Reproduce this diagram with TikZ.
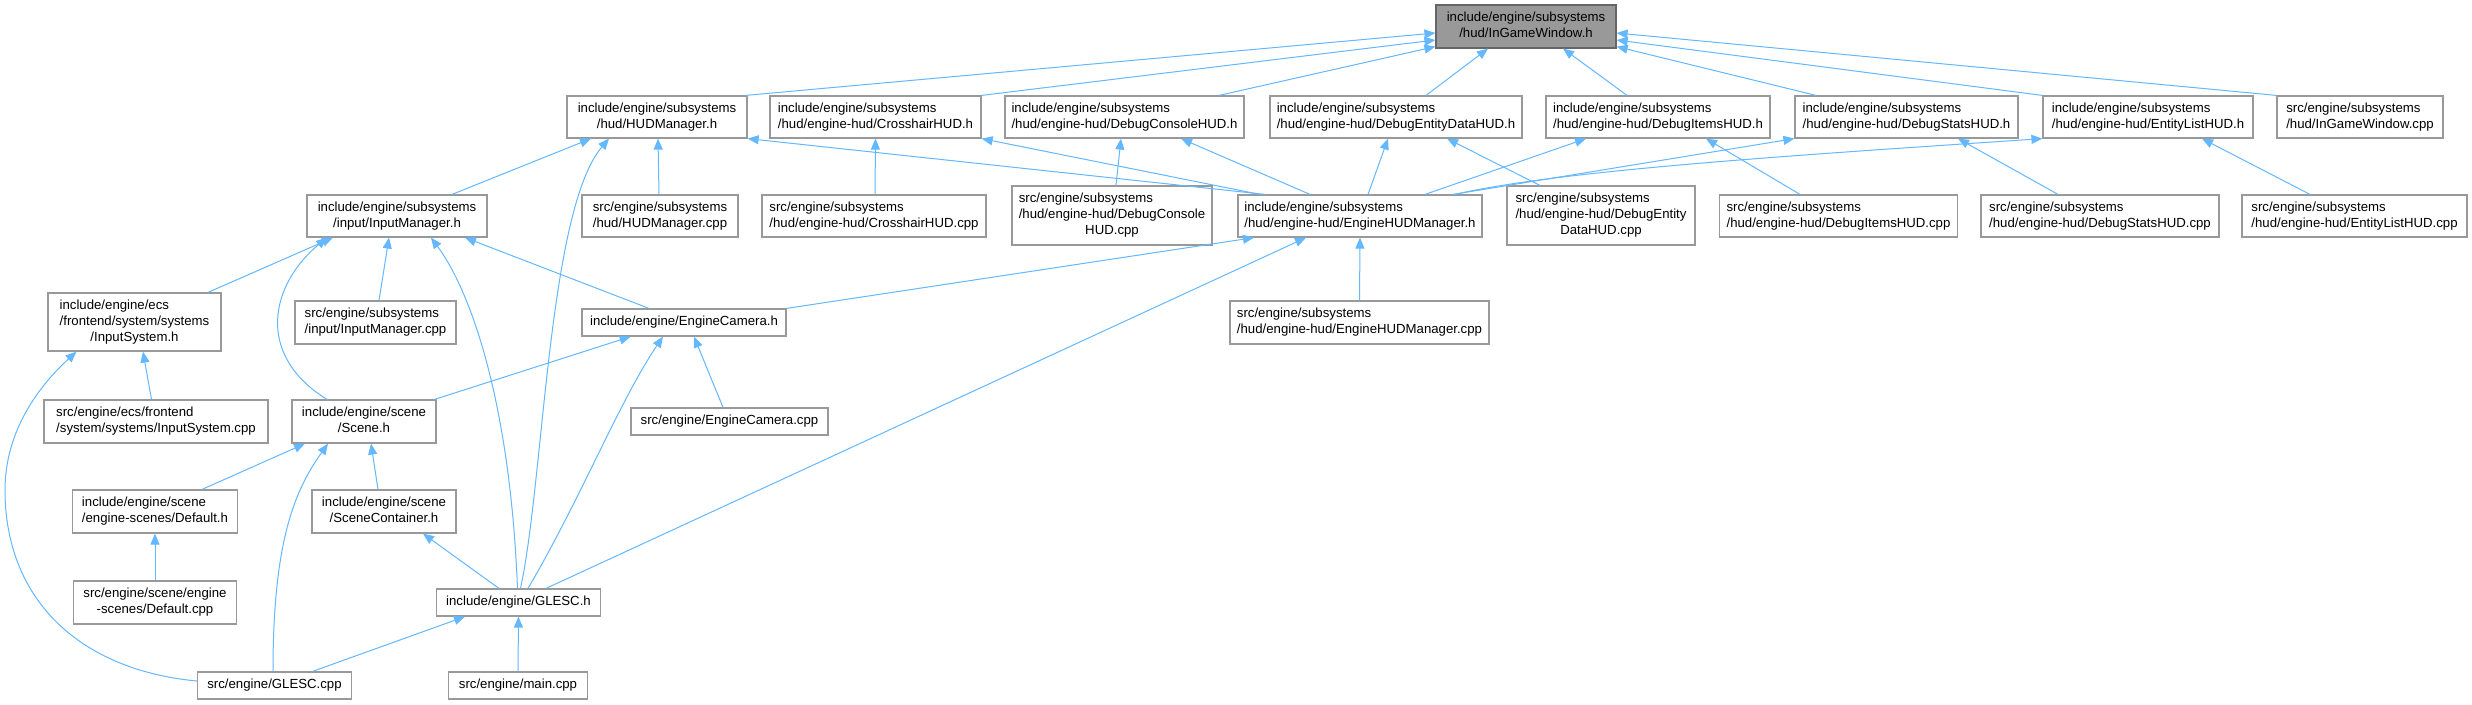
\documentclass[tikz,border=0pt]{standalone}
\usepackage{fontspec}
\setmainfont{Liberation Sans}
\usetikzlibrary{arrows.meta}
\definecolor{edgeblue}{HTML}{63B8FF}
\definecolor{boxgray}{HTML}{999999}
\definecolor{rootfill}{HTML}{999999}
\definecolor{rootline}{HTML}{666666}
\newcommand{\twoline}[2]{\begin{tabular}{@{}l@{}}#1\\\multicolumn{1}{@{}c@{}}{#2}\end{tabular}}
\newcommand{\threeline}[3]{\begin{tabular}{@{}l@{}}#1\\#2\\\multicolumn{1}{@{}c@{}}{#3}\end{tabular}}
\begin{document}
\begin{tikzpicture}[x=1pt, y=-1pt, every node/.style={font=\fontsize{13.2}{16}\selectfont},
  file/.style={draw=boxgray, fill=white, line width=1.2pt, inner sep=0pt},
  rootfile/.style={file, draw=rootline, fill=rootfill},
  dep/.style={draw=edgeblue, line width=1pt, {Triangle[length=11pt,width=9pt]}-}]
\useasboundingbox[fill=white] (0,0) rectangle (2472,704);
\node[rootfile, minimum width=180, minimum height=43] (root) at (1526,26.5) {\twoline{include/engine/subsystems}{/hud/InGameWindow.h}};
\node[file, minimum width=180, minimum height=42] (hudm) at (657,117) {\twoline{include/engine/subsystems}{/hud/HUDManager.h}};
\node[file, minimum width=211, minimum height=42] (cross) at (875.5,117) {\twoline{include/engine/subsystems}{/hud/engine-hud/CrosshairHUD.h}};
\node[file, minimum width=239, minimum height=42] (dcon) at (1124.5,117) {\twoline{include/engine/subsystems}{/hud/engine-hud/DebugConsoleHUD.h}};
\node[file, minimum width=252, minimum height=42] (dent) at (1396,117) {\twoline{include/engine/subsystems}{/hud/engine-hud/DebugEntityDataHUD.h}};
\node[file, minimum width=224, minimum height=42] (ditm) at (1658,117) {\twoline{include/engine/subsystems}{/hud/engine-hud/DebugItemsHUD.h}};
\node[file, minimum width=223, minimum height=42] (dsta) at (1906.5,117) {\twoline{include/engine/subsystems}{/hud/engine-hud/DebugStatsHUD.h}};
\node[file, minimum width=210, minimum height=42] (elist) at (2148,117) {\twoline{include/engine/subsystems}{/hud/engine-hud/EntityListHUD.h}};
\node[file, minimum width=166, minimum height=42] (igwcpp) at (2360,117) {\twoline{src/engine/subsystems}{/hud/InGameWindow.cpp}};
\node[file, minimum width=180, minimum height=42] (inpm) at (397,216) {\twoline{include/engine/subsystems}{/input/InputManager.h}};
\node[file, minimum width=156, minimum height=42] (hudcpp) at (660,216) {\twoline{src/engine/subsystems}{/hud/HUDManager.cpp}};
\node[file, minimum width=224, minimum height=42] (crosscpp) at (874,216) {\twoline{src/engine/subsystems}{/hud/engine-hud/CrosshairHUD.cpp}};
\node[file, minimum width=200, minimum height=59] (dconcpp) at (1112,215.5) {\threeline{src/engine/subsystems}{/hud/engine-hud/DebugConsole}{HUD.cpp}};
\node[file, minimum width=244, minimum height=42] (ehm) at (1360,216) {\twoline{include/engine/subsystems}{/hud/engine-hud/EngineHUDManager.h}};
\node[file, minimum width=188, minimum height=59] (dentcpp) at (1601,215.5) {\threeline{src/engine/subsystems}{/hud/engine-hud/DebugEntity}{DataHUD.cpp}};
\node[file, minimum width=238, minimum height=42] (ditmcpp) at (1838.5,216) {\twoline{src/engine/subsystems}{/hud/engine-hud/DebugItemsHUD.cpp}};
\node[file, minimum width=238, minimum height=42] (dstacpp) at (2100,216) {\twoline{src/engine/subsystems}{/hud/engine-hud/DebugStatsHUD.cpp}};
\node[file, minimum width=225, minimum height=42] (elistcpp) at (2354.5,216) {\twoline{src/engine/subsystems}{/hud/engine-hud/EntityListHUD.cpp}};
\node[file, minimum width=173, minimum height=58] (insys) at (134.5,322) {\threeline{include/engine/ecs}{/frontend/system/systems}{/InputSystem.h}};
\node[file, minimum width=161, minimum height=43] (inpmcpp) at (375.5,322.5) {\twoline{src/engine/subsystems}{/input/InputManager.cpp}};
\node[file, minimum width=204, minimum height=27] (cam) at (684,322.5) {include/engine/EngineCamera.h};
\node[file, minimum width=259, minimum height=43] (ehmcpp) at (1359.5,322.5) {\twoline{src/engine/subsystems}{/hud/engine-hud/EngineHUDManager.cpp}};
\node[file, minimum width=224, minimum height=43] (insyscpp) at (156,421.5) {\twoline{src/engine/ecs/frontend}{/system/systems/InputSystem.cpp}};
\node[file, minimum width=144, minimum height=43] (scene) at (364,421.5) {\twoline{include/engine/scene}{/Scene.h}};
\node[file, minimum width=197, minimum height=27] (camcpp) at (729.5,421.5) {src/engine/EngineCamera.cpp};
\node[file, minimum width=165, minimum height=43] (defh) at (155,511.5) {\twoline{include/engine/scene}{/engine-scenes/Default.h}};
\node[file, minimum width=144, minimum height=43] (scont) at (384,511.5) {\twoline{include/engine/scene}{/SceneContainer.h}};
\node[file, minimum width=163, minimum height=43] (defcpp) at (155,602.5) {\twoline{src/engine/scene/engine}{-scenes/Default.cpp}};
\node[file, minimum width=164, minimum height=27] (glh) at (518.5,602.5) {include/engine/GLESC.h};
\node[file, minimum width=154, minimum height=27] (glcpp) at (274.5,685.5) {src/engine/GLESC.cpp};
\node[file, minimum width=139, minimum height=27] (main) at (518,685.5) {src/engine/main.cpp};
\draw[dep] ([yshift=-6.5pt]root.west) -- ([xshift=-2pt]hudm.north east);
\draw[dep] ([yshift=-13.5pt]root.west) -- (cross.north east);
\draw[dep] ([yshift=2pt]root.south west) -- ([xshift=94.5pt]dcon.north);
\draw[dep] ([xshift=-38pt]root.south) -- ([xshift=30pt]dent.north);
\draw[dep] ([xshift=37pt]root.south) -- ([xshift=-31pt]ditm.north);
\draw[dep] ([yshift=2pt]root.south east) -- ([xshift=-90.5pt]dsta.north);
\draw[dep] ([yshift=-13.5pt]root.east) -- (elist.north west);
\draw[dep] ([yshift=-6.5pt]root.east) -- (igwcpp.north west);
\draw[dep] ([xshift=-66pt]hudm.south) -- ([xshift=55pt]inpm.north);
\draw[dep] ([xshift=-48pt]hudm.south) .. controls (548,210) and (544,480) .. ([xshift=2pt]glh.north);
\draw[dep] ([xshift=1pt]hudm.south) -- ([xshift=-1pt]hudcpp.north);
\draw[dep] (hudm.south east) -- ([xshift=-95pt]ehm.north);
\draw[dep] (cross.south) -- ([xshift=1pt]crosscpp.north);
\draw[dep] (cross.south east) -- ([xshift=-100pt]ehm.north);
\draw[dep] ([xshift=-3.5pt]dcon.south) -- ([xshift=4pt]dconcpp.north);
\draw[dep] ([xshift=56.5pt]dcon.south) -- ([xshift=-50pt]ehm.north);
\draw[dep] ([xshift=-8pt]dent.south) -- ([xshift=8pt]ehm.north);
\draw[dep] ([xshift=51pt]dent.south) -- ([xshift=-61pt]dentcpp.north);
\draw[dep] ([xshift=-72pt]ditm.south) -- ([xshift=65pt]ehm.north);
\draw[dep] ([xshift=48pt]ditm.south) -- ([xshift=-38.5pt]ditmcpp.north);
\draw[dep] (dsta.south west) -- ([xshift=93pt]ehm.north);
\draw[dep] ([xshift=51.5pt]dsta.south) -- ([xshift=-42pt]dstacpp.north);
\draw[dep] (elist.south west) .. controls (1800,155) and (1560,170) .. ([xshift=95pt]ehm.north);
\draw[dep] ([xshift=54pt]elist.south) -- ([xshift=-44.5pt]elistcpp.north);
\draw[dep] ([xshift=-106pt]ehm.south) -- (cam.north east);
\draw[dep] ([xshift=-54pt]ehm.south) -- ([xshift=27.5pt]glh.north);
\draw[dep] (ehm.south) -- (ehmcpp.north);
\draw[dep] ([xshift=-64pt]inpm.south) -- ([xshift=73.5pt]insys.north);
\draw[dep] ([xshift=-70pt]inpm.south) .. controls (270,285) and (255,355) .. ([xshift=-37pt]scene.north);
\draw[dep] ([xshift=-8pt]inpm.south) -- ([xshift=3.5pt]inpmcpp.north);
\draw[dep] ([xshift=34pt]inpm.south) .. controls (470,290) and (510,400) .. ([xshift=-1pt]glh.north);
\draw[dep] ([xshift=68pt]inpm.south) -- ([xshift=-35pt]cam.north);
\draw[dep] ([xshift=8.5pt]insys.south) -- ([xshift=-4.5pt]insyscpp.north);
\draw[dep] ([xshift=-58pt]insys.south) .. controls (40,385) and (5,430) .. (5,490) .. controls (5,600) and (80,670) .. ([yshift=4.5pt]glcpp.west);
\draw[dep] ([xshift=-53.4pt]cam.south) -- ([xshift=-2pt]scene.north east);
\draw[dep] ([xshift=-21pt]cam.south) .. controls (620,400) and (580,500) .. ([xshift=9.5pt]glh.north);
\draw[dep] ([xshift=10pt]cam.south) -- ([xshift=-6.5pt]camcpp.north);
\draw[dep] ([xshift=-59pt]scene.south) -- ([xshift=47pt]defh.north);
\draw[dep] ([xshift=-36pt]scene.south) .. controls (295,490) and (273,540) .. ([xshift=-1.5pt]glcpp.north);
\draw[dep] ([xshift=7pt]scene.south) -- ([xshift=-6pt]scont.north);
\draw[dep] (defh.south) -- (defcpp.north);
\draw[dep] ([xshift=39pt]scont.south) -- ([xshift=-19.5pt]glh.north);
\draw[dep] ([xshift=-53.5pt]glh.south) -- ([xshift=38pt]glcpp.north);
\draw[dep] (glh.south) -- (main.north);
\end{tikzpicture}
\end{document}
